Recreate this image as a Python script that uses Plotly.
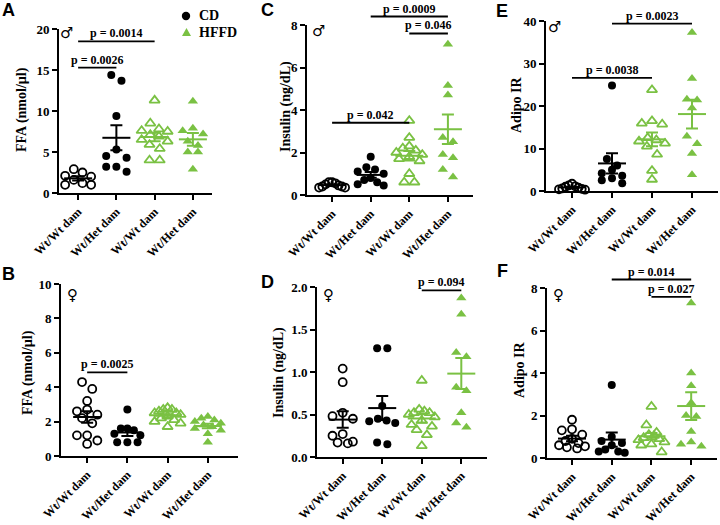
import numpy as np
import plotly.graph_objects as go

# group order: CD Wt/Wt, CD Wt/Het, HFFD Wt/Wt, HFFD Wt/Het
group_labels = ["Wt/Wt dam", "Wt/Het dam", "Wt/Wt dam", "Wt/Het dam"]
diet_names = ["CD", "HFFD"]

ffa_male = [
    [2.9, 2.5, 2.1, 2.0, 1.6, 1.2, 1.0, 1.0],
    [14.4, 13.7, 9.4, 5.3, 4.5, 4.3, 3.2, 3.2, 2.6],
    [11.3, 8.5, 7.8, 7.6, 7.5, 7.1, 6.9, 6.5, 6.3, 5.9, 5.4, 4.0, 4.0],
    [11.2, 7.9, 7.6, 7.2, 6.3, 5.8, 5.0, 5.0, 2.9],
]
ffa_female = [
    [4.3, 3.9, 3.2, 2.7, 2.6, 2.4, 2.2, 1.9, 1.2, 1.2, 0.9, 0.7],
    [2.7, 1.6, 1.6, 1.5, 1.3, 1.2, 0.8, 0.8, 0.8],
    [2.8, 2.7, 2.7, 2.6, 2.5, 2.5, 2.4, 2.3, 2.2, 2.1, 2.0, 1.9, 1.7],
    [2.3, 2.2, 2.1, 2.0, 1.9, 1.8, 1.7, 1.6, 1.5, 1.3, 0.8],
]
insulin_male = [
    [0.6, 0.6, 0.55, 0.5, 0.45, 0.4, 0.4, 0.35, 0.35],
    [1.8, 1.3, 1.2, 1.1, 1.0, 0.8, 0.7, 0.6, 0.5, 0.45],
    [3.5, 2.7, 2.3, 2.2, 2.1, 2.0, 1.9, 1.8, 1.7, 1.6, 1.0, 0.6, 0.6],
    [7.1, 5.15, 4.7, 2.7, 2.5, 1.9, 1.75, 1.2, 0.85],
]
insulin_female = [
    [1.04, 0.88, 0.52, 0.48, 0.45, 0.27, 0.25, 0.18, 0.17, 0.16],
    [1.28, 1.28, 0.6, 0.45, 0.43, 0.42, 0.4, 0.17, 0.15],
    [0.9, 0.56, 0.54, 0.52, 0.52, 0.5, 0.47, 0.43, 0.38, 0.36, 0.32, 0.26, 0.13],
    [1.87, 1.68, 1.23, 1.18, 0.82, 0.78, 0.52, 0.4, 0.35],
]
adipo_male = [
    [1.7, 1.3, 1.1, 1.0, 0.8, 0.6, 0.5, 0.4, 0.3],
    [24.8, 7.5, 6.0, 5.0, 4.2, 3.6, 3.0, 2.5, 1.8],
    [23.8, 16.5, 15.9, 15.7, 12.5, 12.0, 11.7, 11.2, 10.5, 8.6, 4.8, 2.7],
    [37.3, 26.5, 21.6, 21.4, 19.5, 12.9, 11.1, 8.8, 3.8],
]
adipo_female = [
    [1.8, 1.35, 1.3, 1.1, 0.9, 0.8, 0.7, 0.6, 0.55, 0.5, 0.45],
    [3.44, 1.0, 0.8, 0.7, 0.6, 0.4, 0.3, 0.3, 0.25],
    [2.42, 1.55, 1.2, 1.1, 1.05, 0.95, 0.9, 0.85, 0.75, 0.65, 0.6, 0.28],
    [7.3, 4.0, 3.4, 2.6, 2.0, 1.95, 1.25, 0.75, 0.65, 0.55],
]

W, H = 720, 525
BLACK = "#000000"
GREEN = "#7ac143"
SERIF = "Liberation Serif"
colors = [BLACK, BLACK, GREEN, GREEN]
symbols = ["circle-open", "circle", "triangle-up-open", "triangle-up"]

# box = (left px, right px, top px, bottom px) of each plot area
panels = [
    dict(letter="A", sex="♂", data=ffa_male, title="FFA (nmol/µl)", ymax=20, dtick=5, fmt="d",
         box=(59, 212, 29, 193), xr=(-0.5, 3.5), letter_xy=(8, 10), sex_xy=(66, 33), title_xy=(22, 110),
         brackets=[(0, 2, 18.5, "p = 0.0014"), (0, 1, 15.3, "p = 0.0026")]),
    dict(letter="B", sex="♀", data=ffa_female, title="FFA (nmol/µl)", ymax=10, dtick=2, fmt="d",
         box=(61, 238, 284, 456), xr=(-0.65, 3.75), letter_xy=(8, 274), sex_xy=(72, 295), title_xy=(28, 373),
         brackets=[(0, 1, 4.86, "p = 0.0025")]),
    dict(letter="C", sex="♂", data=insulin_male, title="Insulin (ng/dL)", ymax=8, dtick=2, fmt="d",
         box=(307, 473, 25, 195), xr=(-0.65, 3.65), letter_xy=(267, 10), sex_xy=(318, 31), title_xy=(286, 107),
         brackets=[(1, 3, 8.4, "p = 0.0009"), (2, 3, 7.6, "p = 0.046"), (0, 2, 3.4, "p = 0.042")]),
    dict(letter="D", sex="♀", data=insulin_female, title="Insulin (ng/dL)", ymax=2, dtick=0.5, fmt=".1f",
         box=(317, 487, 287, 457), xr=(-0.65, 3.65), letter_xy=(267, 282), sex_xy=(328, 295), title_xy=(279, 373),
         brackets=[(2, 3, 1.96, "p = 0.094")]),
    dict(letter="E", sex="♂", data=adipo_male, title="Adipo IR", ymax=40, dtick=10, fmt="d",
         box=(546, 718, 21, 191), xr=(-0.65, 3.65), letter_xy=(502, 11), sex_xy=(554, 27), title_xy=(517, 105),
         brackets=[(1, 3, 39.4, "p = 0.0023"), (0, 2, 26.6, "p = 0.0038")]),
    dict(letter="F", sex="♀", data=adipo_female, title="Adipo IR", ymax=8, dtick=2, fmt="d",
         box=(547, 717, 288, 458), xr=(-0.63, 3.65), letter_xy=(502, 271), sex_xy=(558, 295), title_xy=(519, 370),
         brackets=[(1, 3, 8.4, "p = 0.014"), (2, 3, 7.58, "p = 0.027")]),
]


def row_scatter(vals, px_unit, px_cat, d=8.5, max_half=13.0):
    # GraphPad-like scatter: points within one marker height share a row, spread side by side
    vals = np.asarray(vals, dtype=float)
    order = list(np.argsort(-vals, kind="stable"))
    rows = []
    for i in order:
        if rows and (vals[rows[-1][0]] - vals[i]) * px_unit < d:
            rows[-1].append(i)
        else:
            rows.append([i])
    xs = np.zeros(len(vals))
    for row in rows:
        m = len(row)
        if m == 1:
            continue
        step = min(1.2 * d, 2 * max_half / (m - 1))
        slots = sorted([j - (m - 1) / 2 for j in range(m)], key=lambda s: (abs(s), s))
        for s, i in zip(slots, row):
            xs[i] = s * step / px_cat
    return xs


fig = go.Figure()
shapes, annotations = [], []


def px_to_paper(x, y):
    return x / W, 1 - y / H


for k, p in enumerate(panels):
    sfx = "" if k == 0 else str(k + 1)
    l, r, t, b = p["box"]
    x0, x1 = p["xr"]
    px_cat = (r - l) / (x1 - x0)
    px_unit = (b - t) / p["ymax"]

    def to_paper(xv, yv, l=l, b=b, x0=x0, px_cat=px_cat, px_unit=px_unit):
        return px_to_paper(l + (xv - x0) * px_cat, b - yv * px_unit)

    for g, vals in enumerate(p["data"]):
        xs = g + row_scatter(vals, px_unit, px_cat)
        is_tri = "triangle" in symbols[g]
        fig.add_trace(go.Scatter(
            x=xs, y=vals, mode="markers", xaxis="x" + sfx, yaxis="y" + sfx,
            name=diet_names[g // 2], showlegend=False,
            marker=dict(symbol=symbols[g], size=9 if is_tri else 8, color=colors[g],
                        line=dict(color=colors[g], width=1.8 if g in (0, 2) else 0)),
            cliponaxis=False, hoverinfo="y",
        ))
    for g, vals in enumerate(p["data"]):
        v = np.asarray(vals)
        mean = v.mean()
        sem = v.std(ddof=1) / np.sqrt(len(v))
        fig.add_trace(go.Scatter(
            x=[g], y=[mean], mode="markers", xaxis="x" + sfx, yaxis="y" + sfx, showlegend=False,
            marker=dict(symbol="line-ew", size=20, color=colors[g], line=dict(color=colors[g], width=2)),
            error_y=dict(type="data", array=[sem], width=6, thickness=2, color=colors[g]),
            cliponaxis=False, hoverinfo="y",
        ))

    axis_common = dict(showline=True, linewidth=2, linecolor=BLACK, ticks="outside", ticklen=5,
                       tickwidth=2, tickcolor=BLACK, showgrid=False, zeroline=False, fixedrange=True,
                       automargin=False)
    fig.layout["xaxis" + sfx] = dict(
        axis_common, domain=[l / W, r / W], range=list(p["xr"]), anchor="y" + sfx,
        tickmode="array", tickvals=[0, 1, 2, 3], ticktext=group_labels, tickangle=-45,
        tickfont=dict(family=SERIF, size=12, color=BLACK, weight="bold"),
    )
    fig.layout["yaxis" + sfx] = dict(
        axis_common, domain=[1 - b / H, 1 - t / H], range=[0, p["ymax"]], anchor="x" + sfx,
        tick0=0, dtick=p["dtick"], tickformat=p["fmt"],
        tickfont=dict(family=SERIF, size=13, color=BLACK, weight="bold"),
    )

    for ga, gb, yv, label in p["brackets"]:
        xa, ya = to_paper(ga, yv)
        xb, _ = to_paper(gb, yv)
        shapes.append(dict(type="line", xref="paper", yref="paper", x0=xa, x1=xb, y0=ya, y1=ya,
                           line=dict(color=BLACK, width=1.8)))
        annotations.append(dict(xref="paper", yref="paper", x=(xa + xb) / 2, y=ya, yshift=-1,
                                text=label, showarrow=False, xanchor="center", yanchor="bottom",
                                font=dict(family=SERIF, size=12, color=BLACK, weight="bold")))

    lx, ly = px_to_paper(*p["letter_xy"])
    annotations.append(dict(xref="paper", yref="paper", x=lx, y=ly, text=p["letter"],
                            showarrow=False, xanchor="center", yanchor="middle",
                            font=dict(family="Liberation Sans", size=18, color=BLACK, weight="bold")))
    sx, sy = px_to_paper(*p["sex_xy"])
    annotations.append(dict(xref="paper", yref="paper", x=sx, y=sy, text=p["sex"],
                            showarrow=False, xanchor="center", yanchor="middle",
                            font=dict(family="DejaVu Sans", size=15, color=BLACK)))
    tx, ty = px_to_paper(*p["title_xy"])
    annotations.append(dict(xref="paper", yref="paper", x=tx, y=ty, text=p["title"],
                            showarrow=False, xanchor="center", yanchor="middle", textangle=-90,
                            font=dict(family=SERIF, size=14, color=BLACK, weight="bold")))

# legend drawn by hand so the rows sit as tightly as in the figure
cx, cy = px_to_paper(186, 16)
rx, ry = 4.2 / W, 4.2 / H
shapes.append(dict(type="circle", xref="paper", yref="paper", x0=cx - rx, x1=cx + rx, y0=cy - ry, y1=cy + ry,
                   fillcolor=BLACK, line=dict(color=BLACK, width=0)))
tx0, ty0 = px_to_paper(182, 36)
tx1, ty1 = px_to_paper(191, 36)
tx2, ty2 = px_to_paper(186.5, 28)
shapes.append(dict(type="path", xref="paper", yref="paper",
                   path=f"M {tx0} {ty0} L {tx1} {ty1} L {tx2} {ty2} Z",
                   fillcolor=GREEN, line=dict(color=GREEN, width=0)))
for name, y in zip(diet_names, (16, 32)):
    ax_, ay_ = px_to_paper(197, y)
    annotations.append(dict(xref="paper", yref="paper", x=ax_, y=ay_, text=name, showarrow=False,
                            xanchor="left", yanchor="middle",
                            font=dict(family=SERIF, size=14, color=BLACK, weight="bold")))

fig.update_layout(
    width=W, height=H, margin=dict(l=0, r=0, t=0, b=0),
    paper_bgcolor="white", plot_bgcolor="white",
    shapes=shapes, annotations=annotations, showlegend=False,
)

fig.write_html("out.html", config={"displayModeBar": False},
               post_script="document.body.style.margin='0';")
